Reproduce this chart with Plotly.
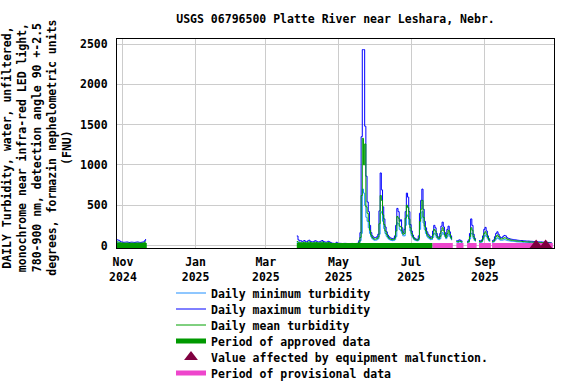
import pandas as pd
import plotly.graph_objects as go

# ---------------- data (daily values, FNU) ----------------
seg1_start = "2024-10-27"  # through 2024-11-20
seg1_max = [70, 65, 55, 45, 42, 40, 40, 42, 44, 40, 38, 40, 42, 40, 38, 40, 42, 44, 40, 38, 40, 42, 45, 60, 80]
seg1_mean = [45, 42, 38, 32, 30, 29, 29, 30, 31, 29, 28, 29, 30, 29, 28, 29, 30, 31, 29, 28, 29, 30, 32, 40, 50]
seg1_min = [35, 33, 30, 26, 25, 24, 24, 25, 26, 24, 23, 24, 25, 24, 23, 24, 25, 26, 24, 23, 24, 25, 26, 30, 35]

seg2_start = "2025-03-27"  # through 2025-10-27
N = None
max_mar = [118, 70, 55, 60, 50]
mean_mar = [50, 40, 35, 38, 33]
min_mar = [35, 30, 28, 30, 26]
max_apr = [55, 62, 48, 45, 58, 66, 52, 47, 44, 50, 60, 54, 46, 42, 48, 56, 62, 50, 45, 40,
           44, 52, 46, 38, 30, 28, 26, 27, 40, 28]
mean_apr = [38, 42, 35, 33, 40, 45, 38, 34, 32, 36, 42, 38, 34, 31, 35, 40, 44, 36, 33, 30,
            32, 37, 34, 28, 22, 21, 20, 21, 28, 21]
min_apr = [30, 33, 28, 27, 32, 36, 30, 27, 26, 29, 34, 31, 27, 25, 28, 32, 35, 29, 27, 24,
           26, 30, 27, 22, 18, 17, 16, 17, 22, 17]
max_may = [28, 27, 26, 25, 26, 27, 26, 25, 24, 24, 25, 26, 25, 24, 24, 26, 30, 60, 160, 1350,
           2430, 2430, 1480, 860, 540, 420, 250, 160, 120, 105, 95]
mean_may = [20, 20, 19, 18, 19, 20, 19, 18, 18, 18, 18, 19, 18, 18, 17, 19, 22, 40, 100, 620,
            1330, 1000, 1260, 480, 400, 300, 190, 130, 100, 85, 78]
min_may = [15, 15, 14, 14, 14, 15, 14, 14, 13, 13, 14, 14, 14, 13, 13, 14, 18, 30, 60, 150,
           700, 650, 500, 350, 300, 220, 150, 110, 85, 72, 65]
max_jun = [100, 110, 140, 430, 900, 690, 480, 330, 230, 170, 130, 110, 95, 90, 85, 90, 120, 250, 460, 420,
           300, 320, 220, 160, 200, 420, 650, 600, 420, 260]
mean_jun = [80, 88, 105, 270, 620, 560, 380, 260, 180, 140, 110, 92, 80, 76, 72, 75, 92, 180, 360, 340,
            240, 230, 180, 140, 150, 340, 500, 470, 330, 220]
min_jun = [66, 72, 85, 140, 400, 420, 300, 210, 150, 115, 92, 78, 68, 64, 60, 62, 72, 110, 280, 270,
           200, 180, 150, 120, 120, 250, 380, 360, 260, 180]
max_jul = [180, 130, 100, 85, 78, 75, 120, 400, 560, 700, 450, 300, 220, 170, 140, 120, 100, 110, 180, 250,
           220, 150, 110, 100, 150, 240, 290, 230, 160, 120, 200]
mean_jul = [150, 110, 88, 75, 68, 66, 90, 300, 450, 560, 350, 240, 180, 140, 115, 100, 85, 90, 130, 200,
            180, 120, 95, 85, 110, 180, 220, 180, 130, 100, 150]
min_jul = [125, 95, 76, 65, 60, 58, 70, 200, 340, 420, 280, 200, 150, 115, 95, 85, 72, 75, 100, 150,
           140, 100, 80, 72, 85, 130, 160, 140, 110, 85, 110]
max_aug = [240, 170, 120, 90, N, N, N, 60, 55, 70, 65, 55, 50, N, N, N, 50, 70, 150, 330,
           250, 140, 90, 70, N, N, 60, 55, 70, 120, 200]
mean_aug = [190, 140, 100, 75, N, N, N, 50, 45, 55, 52, 45, 42, N, N, N, 40, 50, 110, 220,
            190, 110, 75, 58, N, N, 48, 45, 55, 90, 150]
min_aug = [140, 115, 85, 65, N, N, N, 42, 38, 45, 44, 38, 36, N, N, N, 34, 40, 80, 150,
           140, 90, 62, 48, N, N, 40, 38, 44, 70, 110]
max_sep = [225, 180, 120, 85, 65, N, 60, 70, 110, 150, 170, 140, 110, 95, 100, 115, 125, 120, 100, 90,
           85, 80, 78, 75, 72, 70, 68, 66, 64, 62]
mean_sep = [170, 140, 100, 70, 55, N, 48, 55, 80, 110, 130, 110, 90, 80, 82, 90, 95, 92, 82, 75,
            70, 68, 65, 63, 60, 58, 56, 55, 53, 52]
min_sep = [130, 110, 80, 58, 46, N, 40, 45, 60, 80, 95, 85, 72, 65, 66, 70, 72, 70, 65, 60,
           58, 56, 54, 52, 50, 48, 46, 45, 44, 43]
max_oct = [62, 60, 58, 58, 56, 55, 55, 54, 52, 52, 50, 50, 48, 48, 46, 45, 44, 44, 42, 42,
           40, 40, 40, 38, 38, 36, 36]
mean_oct = [52, 50, 48, 48, 46, 45, 45, 44, 43, 43, 41, 41, 40, 40, 38, 37, 36, 36, 35, 35,
            33, 33, 33, 31, 31, 30, 30]
min_oct = [44, 42, 41, 41, 39, 38, 38, 37, 36, 36, 35, 35, 34, 34, 32, 31, 31, 31, 30, 30,
           28, 28, 28, 27, 27, 26, 26]

approved_periods = [("2024-10-27", "2024-11-20"), ("2025-03-27", "2025-07-18")]
provisional_periods = [("2025-07-19", "2025-08-04"), ("2025-08-08", "2025-08-13"),
                       ("2025-08-17", "2025-08-24"), ("2025-08-27", "2025-09-05"),
                       ("2025-09-07", "2025-10-27")]
malfunction_dates = ["2025-10-14", "2025-10-22"]
malfunction_values = [0, 0]

title_text = "USGS 06796500 Platte River near Leshara, Nebr."
y_title = ("DAILY Turbidity, water, unfiltered,<br>monochrome near infra-red LED light,<br>"
           "780-900 nm, detection angle 90 +-2.5<br>degrees, formazin nephelometric units<br>(FNU)")

# ---------------- assemble ----------------
seg2_max = max_mar + max_apr + max_may + max_jun + max_jul + max_aug + max_sep + max_oct
seg2_mean = mean_mar + mean_apr + mean_may + mean_jun + mean_jul + mean_aug + mean_sep + mean_oct
seg2_min = min_mar + min_apr + min_may + min_jun + min_jul + min_aug + min_sep + min_oct

d1 = pd.date_range(seg1_start, periods=len(seg1_max), freq="D")
d2 = pd.date_range(seg2_start, periods=len(seg2_max), freq="D")
full = pd.date_range(d1[0], d2[-1], freq="D")


def series(a, b):
    s = pd.Series(list(a) + list(b), index=list(d1) + list(d2), dtype="float")
    return s.reindex(full)


s_max = series(seg1_max, seg2_max)
s_mean = series(seg1_mean, seg2_mean)
s_min = series(seg1_min, seg2_min)


def period_xy(periods):
    xs, ys = [], []
    for a, b in periods:
        xs += [pd.Timestamp(a), pd.Timestamp(b) + pd.Timedelta(days=1), None]
        ys += [0, 0, None]
    return xs, ys


FONT = "DejaVu Sans Mono"
fs = 11.5
font = dict(family=FONT, size=fs, color="black", weight="bold")

fig = go.Figure()
fig.add_trace(go.Scatter(x=full, y=s_min, mode="lines", name="Daily minimum turbidity",
                         line=dict(color="#1e8fff", width=1, shape="hv"), legend="legend"))
fig.add_trace(go.Scatter(x=full, y=s_max, mode="lines", name="Daily maximum turbidity",
                         line=dict(color="#0000ff", width=1, shape="hv"), legend="legend2"))
fig.add_trace(go.Scatter(x=full, y=s_mean, mode="lines", name="Daily mean turbidity",
                         line=dict(color="#00a000", width=1, shape="hv"), legend="legend3"))
ax, ay = period_xy(approved_periods)
fig.add_trace(go.Scatter(x=ax, y=ay, mode="lines", name="Period of approved data",
                         line=dict(color="#009900", width=5), legend="legend4"))
px_, py_ = period_xy(provisional_periods)
fig.add_trace(go.Scatter(x=px_, y=py_, mode="lines", name="Period of provisional data",
                         line=dict(color="#ee46cc", width=5), legend="legend6"))
fig.add_trace(go.Scatter(x=pd.to_datetime(malfunction_dates), y=malfunction_values, mode="markers",
                         name="Value affected by equipment malfunction.",
                         marker=dict(symbol="triangle-up", size=12, color="#800040"),
                         cliponaxis=False, legend="legend5"))

W, H = 576, 384
PL, PR, PT, PB = 117, 554, 39, 248
legend_centers = [293, 309, 325, 341, 357, 373]
leg_x = 171
legends = {}
for i, yc in enumerate(legend_centers):
    key = "legend" if i == 0 else f"legend{i+1}"
    legends[key] = dict(x=leg_x / W, xref="container", y=1 - yc / H, yref="container",
                        xanchor="left", yanchor="middle", font=font,
                        bgcolor="rgba(0,0,0,0)", borderwidth=0)

fig.update_layout(
    width=W, height=H,
    margin=dict(l=PL, r=W - PR, t=PT, b=H - PB, autoexpand=False),
    paper_bgcolor="white", plot_bgcolor="white",
    font=font,
    title=dict(text=title_text, font=font, x=(PL + PR) / 2 / W, xanchor="center",
               y=1 - 19 / H, yanchor="middle", xref="container", yref="container"),
    showlegend=True,
    **legends,
)
fig.add_annotation(text=y_title, textangle=-90, font=font, showarrow=False,
                   xref="paper", yref="paper", x=(37 - PL) / (PR - PL), y=0.48,
                   xanchor="center", yanchor="middle", align="center")
fig.update_xaxes(
    range=["2024-10-27", "2025-10-29"], type="date",
    tick0="2024-11-01", dtick="M2", tickformat="%b<br>%Y",
    showgrid=True, gridcolor="#cccccc", gridwidth=1,
    showline=True, linecolor="black", linewidth=1, mirror=True,
    ticks="", tickfont=font, ticklabelstandoff=3, automargin=False, zeroline=False,
)
fig.update_yaxes(
    range=[-31, 2562], tick0=0, dtick=500,
    showgrid=True, gridcolor="#cccccc", gridwidth=1,
    showline=True, linecolor="black", linewidth=1, mirror=True,
    ticks="", tickfont=font, ticklabelstandoff=6, automargin=False, zeroline=False,
)

fig.write_html("out.html", config={"displayModeBar": False},
               post_script="document.body.style.margin='0px';")
